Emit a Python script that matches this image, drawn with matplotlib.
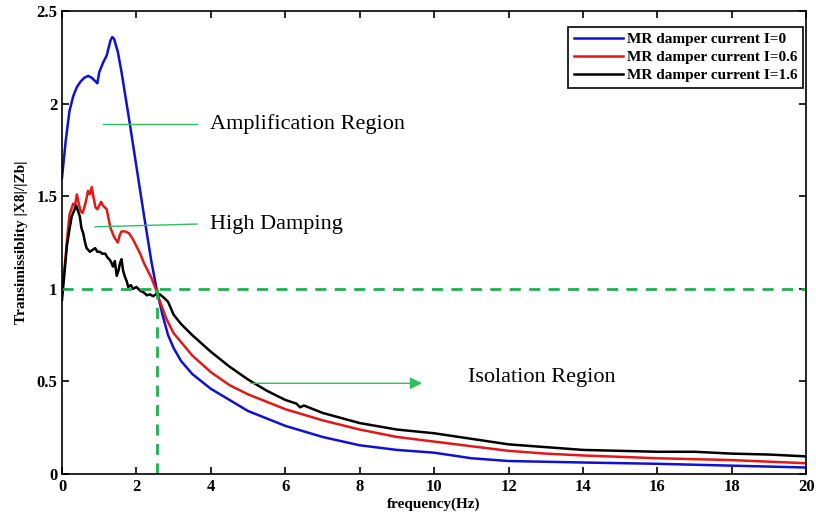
import matplotlib.pyplot as plt
import numpy as np

# MR damper current I=0
freq_i0 = [0, 0.1, 0.2, 0.3, 0.4, 0.5, 0.6, 0.7, 0.8, 0.9, 0.95, 1.0, 1.1, 1.15, 1.2,
           1.3, 1.35, 1.4, 1.5, 1.6, 1.8, 2.0, 2.2, 2.4, 2.55, 2.7, 2.85, 3.0, 3.2, 3.5,
           4.0, 4.5, 5.0, 5.5, 6.0, 7.0, 8.0, 9.0, 10.0, 11.0, 12.0, 13.0, 14.0, 16.0,
           18.0, 20.0]
trans_i0 = [1.60, 1.80, 1.96, 2.04, 2.09, 2.12, 2.14, 2.15, 2.14, 2.12, 2.11, 2.17, 2.22,
            2.24, 2.26, 2.34, 2.36, 2.35, 2.28, 2.17, 1.92, 1.66, 1.40, 1.15, 0.99, 0.86,
            0.75, 0.68, 0.61, 0.54, 0.46, 0.40, 0.34, 0.30, 0.26, 0.20, 0.155, 0.13, 0.115,
            0.085, 0.07, 0.066, 0.062, 0.055, 0.045, 0.035]

# MR damper current I=0.6
freq_i06 = [0, 0.05, 0.1, 0.15, 0.2, 0.25, 0.3, 0.35, 0.4, 0.45, 0.5, 0.55, 0.6, 0.65,
            0.7, 0.75, 0.8, 0.85, 0.9, 0.95, 1.0, 1.05, 1.1, 1.15, 1.2, 1.25, 1.3, 1.4,
            1.5, 1.55, 1.6, 1.7, 1.8, 1.9, 2.0, 2.1, 2.2, 2.3, 2.4, 2.5, 2.6, 2.8, 3.0,
            3.5, 4.0, 4.5, 5.0, 6.0, 7.0, 8.0, 9.0, 10, 11, 12, 13, 14, 16, 18, 20]
trans_i06 = [0.98, 1.08, 1.18, 1.30, 1.40, 1.43, 1.46, 1.45, 1.51, 1.46, 1.42, 1.41, 1.44,
             1.48, 1.53, 1.51, 1.55, 1.49, 1.44, 1.43, 1.45, 1.47, 1.45, 1.44, 1.43, 1.38,
             1.33, 1.28, 1.25, 1.29, 1.31, 1.31, 1.30, 1.27, 1.23, 1.19, 1.14, 1.10, 1.06,
             1.01, 0.95, 0.84, 0.76, 0.64, 0.55, 0.48, 0.43, 0.35, 0.29, 0.24, 0.20, 0.175,
             0.15, 0.125, 0.11, 0.10, 0.085, 0.075, 0.058]

# MR damper current I=1.6
freq_i16 = [0, 0.05, 0.13, 0.2, 0.26, 0.32, 0.38, 0.43, 0.48, 0.52, 0.57, 0.62, 0.66, 0.75,
            0.82, 0.89, 0.95, 1.02, 1.08, 1.16, 1.22, 1.29, 1.33, 1.37, 1.42, 1.47, 1.52,
            1.56, 1.6, 1.64, 1.69, 1.74, 1.78, 1.85, 1.91, 2.0, 2.1, 2.2, 2.28, 2.36, 2.45,
            2.55, 2.63, 2.75, 2.85, 3.0, 3.2, 3.5, 4.0, 4.5, 5.0, 5.5, 6.0, 6.3, 6.4, 6.5,
            7.0, 8.0, 9.0, 10, 11, 12, 13, 14, 15, 16, 17, 18, 19, 20]
trans_i16 = [0.94, 1.05, 1.23, 1.32, 1.39, 1.42, 1.45, 1.42, 1.39, 1.33, 1.30, 1.25, 1.22,
             1.20, 1.21, 1.22, 1.20, 1.20, 1.19, 1.19, 1.17, 1.155, 1.14, 1.12, 1.15, 1.07,
             1.10, 1.14, 1.16, 1.10, 1.065, 1.04, 1.01, 1.02, 1.00, 1.01, 0.99, 0.98, 0.965,
             0.97, 0.96, 0.975, 0.97, 0.95, 0.93, 0.86, 0.81, 0.75, 0.66, 0.58, 0.51, 0.45,
             0.40, 0.38, 0.36, 0.37, 0.33, 0.275, 0.24, 0.22, 0.19, 0.16, 0.145, 0.13, 0.125,
             0.12, 0.12, 0.11, 0.105, 0.095]

crossover_freq = 2.55

plt.rcParams['font.family'] = ['Liberation Serif', 'DejaVu Serif']

fig = plt.figure(figsize=(8.16, 5.29), dpi=100)
ax = fig.add_axes([0.076, 0.104, 0.912, 0.875])

ax.plot(freq_i0, trans_i0, color='#1010d0', lw=1.8, label='MR damper current I=0')
ax.plot(freq_i06, trans_i06, color='#e01818', lw=1.8, label='MR damper current I=0.6')
ax.plot(freq_i16, trans_i16, color='black', lw=1.8, label='MR damper current I=1.6')

green = '#1fb04f'
ax.plot([0, 20], [1, 1], color=green, lw=2, ls=(0, (4, 3)))
ax.plot([crossover_freq, crossover_freq], [0, 1], color=green, lw=2, ls=(0, (4, 3)))

# annotations
ax.plot([1.1, 3.63], [1.89, 1.89], color='#2ec060', lw=1)
ax.text(3.98, 1.89, 'Amplification Region', fontsize=16, va='center', ha='left')
ax.plot([0.89, 3.63], [1.335, 1.35], color='#2ec060', lw=1)
ax.text(3.98, 1.35, 'High Damping', fontsize=16, va='center', ha='left')
ax.annotate('', xy=(9.75, 0.49), xytext=(5.0, 0.49),
            arrowprops=dict(arrowstyle='-|>', color='#2ec060', lw=1, mutation_scale=18))
ax.text(10.9, 0.52, 'Isolation Region', fontsize=16, va='center', ha='left')

ax.set_xlim(0, 20)
ax.set_ylim(0, 2.5)
ax.set_xticks(np.arange(0, 21, 2))
ax.set_yticks([0, 0.5, 1, 1.5, 2, 2.5])
ax.set_yticklabels(['0', '0.5', '1', '1.5', '2', '2.5'])
ax.tick_params(direction='in', top=True, right=True, length=5, width=1.2,
               labelsize=12)
for lbl in ax.get_xticklabels() + ax.get_yticklabels():
    lbl.set_fontweight('bold')
for sp in ax.spines.values():
    sp.set_linewidth(1.2)
ax.set_xlabel('frequency(Hz)', fontsize=11, fontweight='bold', labelpad=2)
ax.set_ylabel('Transimissiblity |X8|/|Zb|', fontsize=11, fontweight='bold', labelpad=6)

leg = ax.legend(loc='upper right', bbox_to_anchor=(0.996, 0.966),
                prop={'weight': 'bold', 'size': 11},
                fancybox=False, edgecolor='black', framealpha=1,
                handlelength=3.2, handletextpad=0.3, borderpad=0.35, labelspacing=0.3,
                borderaxespad=0)
leg.get_frame().set_linewidth(1.2)

fig.savefig('out.png', dpi=100)
